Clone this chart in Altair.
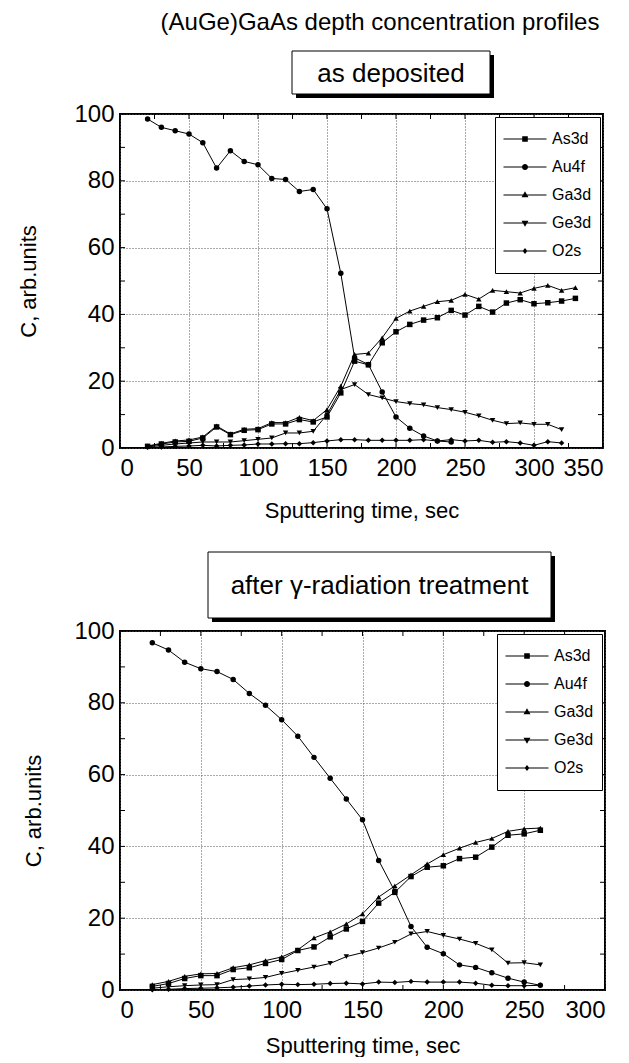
import altair as alt
import pandas as pd

FONT = "Liberation Sans"
SERIES = ["As3d", "Au4f", "Ga3d", "Ge3d", "O2s"]
MARKERS = ["square", "circle", "triangle-up", "triangle-down", "diamond"]
LINE_SEG = "M-1,-0.025H1V0.025H-1Z"
LEGEND_SYMBOLS = [
    LINE_SEG + "M-0.13,-0.13H0.13V0.13H-0.13Z",
    LINE_SEG + "M0.14,0A0.14,0.14,0,1,1,-0.14,0A0.14,0.14,0,1,1,0.14,0Z",
    LINE_SEG + "M0,-0.17L0.16,0.11H-0.16Z",
    LINE_SEG + "M0,0.17L-0.16,-0.11H0.16Z",
    LINE_SEG + "M0,-0.14L0.11,0L0,0.14L-0.11,0Z",
]

# ---------------- as deposited ----------------
top_t_long = [20, 30, 40, 50, 60, 70, 80, 90, 100, 110, 120, 130, 140, 150, 160, 170,
              180, 190, 200, 210, 220, 230, 240, 250, 260, 270, 280, 290, 300, 310, 320, 330]
top_t_mid = [20, 30, 40, 50, 60, 70, 80, 90, 100, 110, 120, 130, 140, 150, 160, 170,
             180, 190, 200, 210, 220, 230, 240, 250, 260, 270, 280, 290, 300, 310, 320]
top_t_au = [20, 30, 40, 50, 60, 70, 80, 90, 100, 110, 120, 130, 140, 150, 160, 170,
            180, 190, 200, 210, 220, 230, 240]
top_as3d = [0.5, 1.2, 1.8, 2.0, 3.0, 6.3, 4.0, 5.3, 5.5, 7.2, 7.2, 8.5, 7.8, 9.3, 16.5, 26.0,
            24.9, 31.5, 34.8, 37.0, 38.3, 39.0, 41.2, 39.8, 42.4, 40.7, 43.4, 44.4, 43.2, 43.5, 44.0, 44.8]
top_ga3d = [0.6, 1.4, 2.1, 2.4, 3.3, 6.6, 4.2, 5.6, 5.8, 7.6, 7.6, 9.2, 8.2, 11.5, 18.5, 28.0,
            28.4, 33.0, 38.8, 41.0, 42.4, 43.8, 44.2, 46.0, 44.6, 47.2, 46.8, 46.4, 47.8, 48.7, 47.2, 48.0]
top_ge3d = [0.3, 0.8, 1.2, 1.5, 1.8, 1.8, 1.8, 2.2, 2.6, 3.0, 4.5, 4.5, 5.0, 10.0, 17.5, 19.0,
            16.0, 15.0, 13.9, 13.3, 12.9, 12.1, 11.5, 10.7, 9.6, 8.3, 7.3, 7.5, 7.1, 7.1, 5.5]
top_au4f = [98.5, 96.0, 95.0, 94.0, 91.4, 83.8, 89.0, 85.8, 84.8, 80.7, 80.4, 76.8, 77.4, 71.6, 52.3, 27.0,
            25.0, 16.8, 9.3, 5.9, 3.6, 2.1, 1.8]
top_o2s = [0.2, 0.3, 0.5, 0.6, 0.8, 0.6, 0.8, 0.9, 1.2, 1.2, 1.3, 1.3, 1.6, 2.1, 2.5, 2.5,
           2.3, 2.3, 2.3, 2.3, 2.5, 2.1, 2.5, 2.1, 2.3, 1.7, 1.9, 1.5, 0.8, 1.9, 1.5]

# ---------------- after gamma-radiation ----------------
bot_t = [20, 30, 40, 50, 60, 70, 80, 90, 100, 110, 120, 130, 140, 150, 160, 170,
         180, 190, 200, 210, 220, 230, 240, 250, 260]
bot_as3d = [1.0, 1.8, 3.2, 4.0, 4.0, 5.7, 6.2, 7.4, 8.5, 11.0, 12.0, 14.8, 17.0, 19.1, 24.2, 27.2,
            31.6, 34.2, 34.6, 36.6, 37.0, 39.8, 43.1, 43.5, 44.5]
bot_ga3d = [1.5, 2.4, 3.8, 4.5, 4.6, 6.2, 7.0, 8.2, 9.2, 11.2, 14.5, 16.2, 18.4, 21.2, 25.9, 29.0,
            32.1, 35.1, 37.7, 39.5, 41.1, 42.2, 44.2, 44.9, 45.1]
bot_ge3d = [0.5, 0.9, 1.2, 1.4, 1.5, 2.9, 3.1, 3.5, 4.6, 5.5, 6.4, 7.4, 9.3, 10.4, 11.7, 13.3,
            15.6, 16.3, 15.2, 14.2, 13.0, 11.2, 7.5, 7.6, 7.0]
bot_au4f = [96.7, 94.7, 91.3, 89.5, 88.7, 86.5, 82.6, 79.3, 75.3, 70.7, 64.8, 59.0, 53.2, 47.4, 36.1, 27.5,
            17.7, 11.9, 10.1, 7.0, 6.3, 4.8, 3.3, 2.2, 1.3]
bot_o2s = [0.1, 0.2, 0.4, 0.5, 0.6, 0.8, 1.1, 1.4, 1.6, 1.5, 1.6, 1.8, 1.9, 1.7, 2.2, 2.1,
           2.4, 2.2, 2.2, 2.2, 1.9, 1.3, 1.2, 1.2, 1.3]

top_x_major = [0, 50, 100, 150, 200, 250, 300, 350]
top_x_minor = [0, 25, 50, 75, 100, 125, 150, 175, 200, 225, 250, 275, 300, 325, 350]
bot_x_major = [0, 50, 100, 150, 200, 250, 300]
bot_x_minor = [0, 25, 50, 75, 100, 125, 150, 175, 200, 225, 250, 275, 300]
y_major = [0, 20, 40, 60, 80, 100]
y_minor = [0, 10, 20, 30, 40, 50, 60, 70, 80, 90, 100]

MAIN_TITLE = "(AuGe)GaAs depth concentration profiles"
X_TITLE = "Sputtering time, sec"
Y_TITLE = "C, arb.units"


def to_frame(parts):
    rows = []
    for name, ts, vs in parts:
        for t, v in zip(ts, vs):
            rows.append({"series": name, "t": t, "c": v})
    return pd.DataFrame(rows)


def panel(df, xmax, xmaj, xmin, width, height, label, box, ytitle_pad, xtitle_pad,
          main_title=None):
    xs = alt.Scale(domain=[0, xmax], nice=False, zero=False)
    ys = alt.Scale(domain=[0, 100], nice=False, zero=False)
    xaxis = alt.Axis(values=xmaj, title=X_TITLE, grid=True, ticks=False, domain=False,
                     labelPadding=8, titlePadding=xtitle_pad)
    yaxis = alt.Axis(values=y_major, title=Y_TITLE, grid=True, ticks=False, domain=False,
                     labelPadding=6, titlePadding=ytitle_pad)
    base = alt.Chart(df)
    lines = base.mark_line(color="black", strokeWidth=1).encode(
        x=alt.X("t:Q", scale=xs, axis=xaxis),
        y=alt.Y("c:Q", scale=ys, axis=yaxis),
        detail="series:N",
        order="t:Q",
    )
    points = base.mark_point(filled=True, color="black", size=30, opacity=1).encode(
        x="t:Q", y="c:Q",
        shape=alt.Shape("series:N", scale=alt.Scale(domain=SERIES, range=MARKERS), legend=None),
    )
    xt = alt.Chart(pd.DataFrame({"t": xmin}))
    yt = alt.Chart(pd.DataFrame({"c": y_minor}))
    tk_b = xt.mark_rule(color="black", strokeWidth=1).encode(
        x="t:Q", y=alt.value(height), y2=alt.value(height - 5))
    tk_t = xt.mark_rule(color="black", strokeWidth=1).encode(
        x="t:Q", y=alt.value(0), y2=alt.value(5))
    tk_l = yt.mark_rule(color="black", strokeWidth=1).encode(
        y="c:Q", x=alt.value(0), x2=alt.value(5))
    tk_r = yt.mark_rule(color="black", strokeWidth=1).encode(
        y="c:Q", x=alt.value(width), x2=alt.value(width - 5))

    leg = alt.Chart(pd.DataFrame({"series": SERIES})).mark_point(
        filled=True, color="black", opacity=0).encode(
        x=alt.value(0), y=alt.value(0),
        shape=alt.Shape("series:N", title=None,
                        scale=alt.Scale(domain=SERIES, range=LEGEND_SYMBOLS),
                        legend=alt.Legend(orient="top-right", offset=3, padding=8,
                                          strokeColor="black", fillColor="white",
                                          symbolSize=1850, symbolStrokeWidth=0,
                                          symbolFillColor="black",
                                          symbolOpacity=1, symbolOffset=0,
                                          labelFont=FONT, labelFontSize=16, labelOffset=5,
                                          rowPadding=0, clipHeight=28)),
    )

    bx0, bx1, by0, by1 = box
    one = alt.Chart(pd.DataFrame({"label": [label]}))
    shadow = one.mark_rect(color="black").encode(
        x=alt.value(bx0 + 4), x2=alt.value(bx1 + 4), y=alt.value(by0 + 4), y2=alt.value(by1 + 4))
    frame = one.mark_rect(fill="white", stroke="black", strokeWidth=1).encode(
        x=alt.value(bx0), x2=alt.value(bx1), y=alt.value(by0), y2=alt.value(by1))
    txt = one.mark_text(font=FONT, fontSize=26, align="center", baseline="middle").encode(
        x=alt.value((bx0 + bx1) / 2), y=alt.value((by0 + by1) / 2 + 1), text="label:N")

    layers = [lines, points, tk_b, tk_t, tk_l, tk_r, shadow, frame, txt, leg]
    if main_title is not None:
        mt = alt.Chart(pd.DataFrame({"label": [main_title]})).mark_text(
            font=FONT, fontSize=24, align="center", baseline="middle").encode(
            x=alt.value(260), y=alt.value(-91), text="label:N")
        layers.append(mt)
    return alt.layer(*layers).resolve_scale(shape="independent").properties(
        width=width, height=height)


df_top = to_frame([
    ("As3d", top_t_long, top_as3d),
    ("Au4f", top_t_au, top_au4f),
    ("Ga3d", top_t_long, top_ga3d),
    ("Ge3d", top_t_mid, top_ge3d),
    ("O2s", top_t_mid, top_o2s),
])
df_bot = to_frame([
    ("As3d", bot_t, bot_as3d),
    ("Au4f", bot_t, bot_au4f),
    ("Ga3d", bot_t, bot_ga3d),
    ("Ge3d", bot_t, bot_ge3d),
    ("O2s", bot_t, bot_o2s),
])

top = panel(df_top, 350, top_x_major, top_x_minor, 483, 334, "as deposited",
            (172, 370, -63, -20), 33, 20, MAIN_TITLE)
bot = panel(df_bot, 300, bot_x_major, bot_x_minor, 485, 359, "after γ-radiation treatment",
            (88, 431, -79, -13), 28, 13)

chart = alt.vconcat(top, bot, spacing=28).properties(
    padding={"left": 8, "top": 2, "right": 2, "bottom": 0}
).configure_view(
    stroke="black", strokeWidth=2
).configure_axis(
    labelFont=FONT, labelFontSize=24, labelColor="black",
    titleFont=FONT, titleFontSize=22, titleFontWeight="normal", titleColor="black",
    gridColor="#555555", gridDash=[1, 2], gridWidth=1, gridOpacity=1,
)

chart.save("out.html", embed_options={"renderer": "svg", "actions": False})
